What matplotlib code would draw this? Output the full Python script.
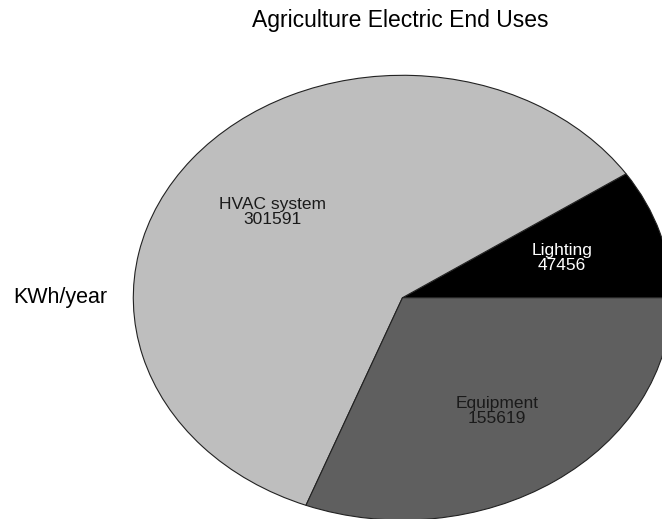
import matplotlib
matplotlib.use("Agg")
import matplotlib.pyplot as plt
import numpy as np

plt.rcParams['font.family'] = ['Liberation Sans', 'DejaVu Sans']

# Annual electricity use by end use (kWh/year)
categories = ["Lighting", "HVAC system", "Equipment"]
values = [47456, 301591, 155619]
slice_colors = ["#000000", "#BEBEBE", "#5F5F5F"]
label_colors = ["#FFFFFF", "#1A1A1A", "#1A1A1A"]

title = "Agriculture Electric End Uses"
axis_label = "KWh/year"

W, H = 662, 519
fig = plt.figure(figsize=(W / 100, H / 100), dpi=100)
fig.patch.set_facecolor("white")

# Pie drawn in a stretched box so it appears as a wide ellipse
cx, cy = 402.5, 519 - 297.7
rx, ry = 269.2, 222.4
ax = fig.add_axes([(cx - rx) / W, (cy - ry) / H, 2 * rx / W, 2 * ry / H])

wedges, _ = ax.pie(values, colors=slice_colors, startangle=0, counterclock=True,
                   radius=1.0,
                   wedgeprops=dict(edgecolor="#222222", linewidth=0.8))
ax.set_aspect("auto")
ax.set_xlim(-1, 1)
ax.set_ylim(-1, 1)
ax.axis("off")

for w, name, val, tc in zip(wedges, categories, values, label_colors):
    mid = np.deg2rad((w.theta1 + w.theta2) / 2)
    r = 0.62
    ax.text(r * np.cos(mid), r * np.sin(mid), f"{name}\n{val}",
            ha="center", va="center", multialignment="center",
            fontsize=12.5, color=tc, linespacing=1.0)

fig.text(400 / W, 1 - 20 / H, title, ha="center", va="center", fontsize=16.5,
         color="black")
fig.text(60 / W, 1 - 298 / H, axis_label, ha="center", va="center", fontsize=15.5,
         color="black")

fig.savefig("out.png", dpi=100)
